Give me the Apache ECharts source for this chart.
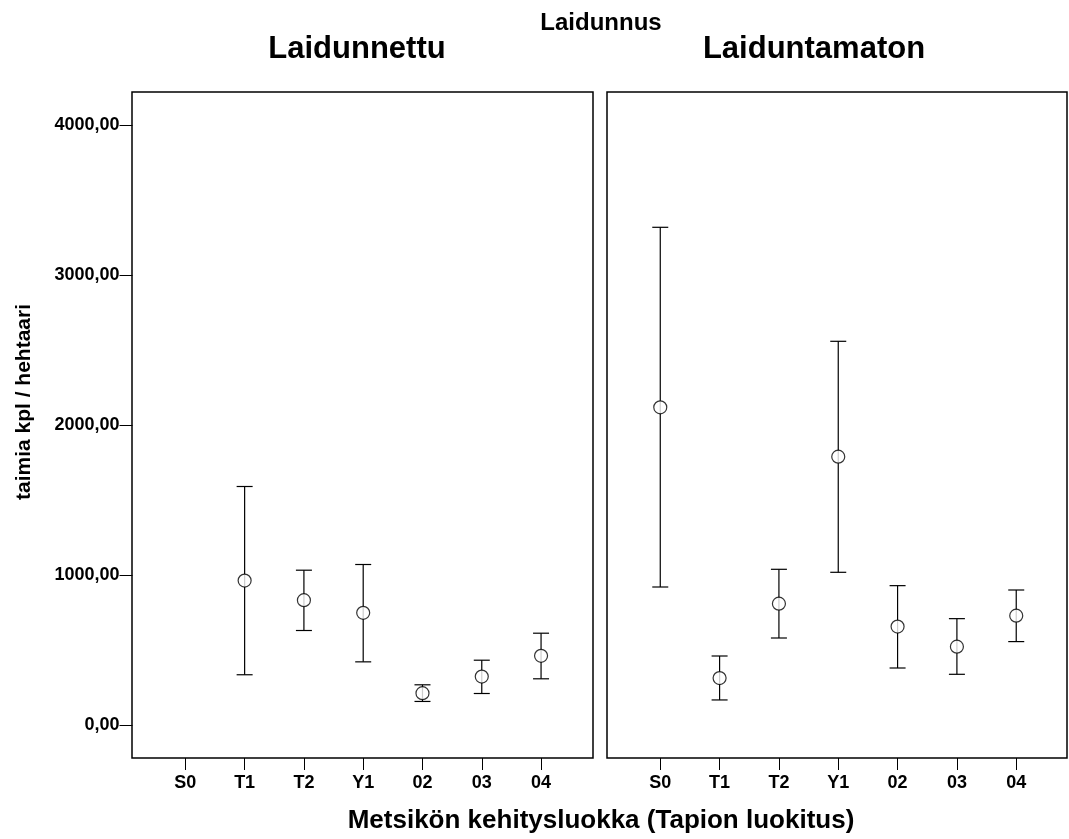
<!DOCTYPE html>
<html>
<head>
<meta charset="utf-8">
<script src="https://cdn.jsdelivr.net/npm/echarts@6/dist/echarts.min.js"></script>
<style>
html,body{margin:0;padding:0;background:#fff;}
#chart{width:1069px;height:839px;}
</style>
</head>
<body>
<div id="chart"></div>
<script>
const categories = ['S0', 'T1', 'T2', 'Y1', '02', '03', '04'];
const yTickLabels = ['0,00', '1000,00', '2000,00', '3000,00', '4000,00'];
const panelTitles = ['Laidunnettu', 'Laiduntamaton'];
const groupTitle = 'Laidunnus';
const xTitle = 'Metsikön kehitysluokka (Tapion luokitus)';
const yTitle = 'taimia kpl / hehtaari';

const laidunnettuMean  = [null, 963, 832, 748, 212, 323, 461];
const laidunnettuLower = [null, 335, 630, 421, 157, 210, 308];
const laidunnettuUpper = [null, 1590, 1032, 1070, 268, 432, 612];

const laiduntamatonMean  = [2118, 313, 809, 1789, 656, 522, 729];
const laiduntamatonLower = [920, 167, 580, 1018, 380, 338, 556];
const laiduntamatonUpper = [3318, 460, 1038, 2558, 929, 709, 900];

const FONT = '"Liberation Sans", Arial, sans-serif';

function barData(lower, upper) {
  const out = [];
  for (let i = 0; i < categories.length; i++) {
    if (lower[i] == null || upper[i] == null) continue;
    out.push([i, lower[i], upper[i]]);
  }
  return out;
}
function meanData(mean) {
  const out = [];
  for (let i = 0; i < categories.length; i++) {
    if (mean[i] == null) continue;
    out.push([i, mean[i]]);
  }
  return out;
}

function renderErrorBar(params, api) {
  const x = api.value(0);
  const lo = api.coord([x, api.value(1)]);
  const hi = api.coord([x, api.value(2)]);
  const hw = 8;
  const style = { stroke: '#000', lineWidth: 1.2, fill: null };
  return {
    type: 'group',
    children: [
      { type: 'line', shape: { x1: lo[0], y1: lo[1], x2: hi[0], y2: hi[1] }, style },
      { type: 'line', shape: { x1: hi[0] - hw, y1: hi[1], x2: hi[0] + hw, y2: hi[1] }, style },
      { type: 'line', shape: { x1: lo[0] - hw, y1: lo[1], x2: lo[0] + hw, y2: lo[1] }, style }
    ]
  };
}

const borderTop = 92, borderBottom = 758;
const zeroY = 725, topY = 125;

const chart = echarts.init(document.getElementById('chart'), null, { renderer: 'canvas' });

const dataYAxisBase = {
  type: 'value', min: 0, max: 4000, interval: 1000,
  splitLine: { show: false },
  axisLine: { show: false, onZero: false }
};
const dataXAxisBase = {
  type: 'category', data: categories, boundaryGap: true,
  position: 'bottom', offset: borderBottom - zeroY,
  axisLine: { show: false, onZero: false },
  axisTick: { show: true, alignWithLabel: true, length: 12, lineStyle: { color: '#000', width: 1 } },
  axisLabel: { color: '#000', fontFamily: FONT, fontWeight: 'bold', fontSize: 18, margin: 16 },
  splitLine: { show: false }
};

const option = {
  backgroundColor: '#fff',
  animation: false,
  grid: [
    { left: 132, top: borderTop, width: 461, height: borderBottom - borderTop, show: true, borderColor: '#000', borderWidth: 1.5, backgroundColor: 'transparent' },
    { left: 607, top: borderTop, width: 460, height: borderBottom - borderTop, show: true, borderColor: '#000', borderWidth: 1.5, backgroundColor: 'transparent' },
    { left: 155.7, top: topY, width: 415, height: zeroY - topY },
    { left: 630.6, top: topY, width: 415.3, height: zeroY - topY }
  ],
  xAxis: [
    { gridIndex: 0, type: 'value', show: false },
    { gridIndex: 1, type: 'value', show: false },
    Object.assign({}, dataXAxisBase, { gridIndex: 2 }),
    Object.assign({}, dataXAxisBase, { gridIndex: 3 })
  ],
  yAxis: [
    { gridIndex: 0, type: 'value', show: false },
    { gridIndex: 1, type: 'value', show: false },
    Object.assign({}, dataYAxisBase, {
      gridIndex: 2, position: 'left', offset: 155.7 - 132.5,
      axisTick: { show: true, length: 13, lineStyle: { color: '#000', width: 1 } },
      axisLabel: {
        color: '#000', fontFamily: FONT, fontWeight: 'bold', fontSize: 18, margin: 13,
        formatter: function (v) { return yTickLabels[Math.round(v / 1000)]; }
      }
    }),
    Object.assign({}, dataYAxisBase, { gridIndex: 3, show: false })
  ],
  series: [
    { type: 'custom', xAxisIndex: 2, yAxisIndex: 2, renderItem: renderErrorBar, data: barData(laidunnettuLower, laidunnettuUpper), encode: { x: 0, y: [1, 2] }, z: 2 },
    { type: 'custom', xAxisIndex: 3, yAxisIndex: 3, renderItem: renderErrorBar, data: barData(laiduntamatonLower, laiduntamatonUpper), encode: { x: 0, y: [1, 2] }, z: 2 },
    { type: 'scatter', xAxisIndex: 2, yAxisIndex: 2, symbol: 'circle', symbolSize: 13, itemStyle: { color: '#fff', borderColor: '#000', borderWidth: 1.2 }, data: meanData(laidunnettuMean), z: 3 },
    { type: 'scatter', xAxisIndex: 3, yAxisIndex: 3, symbol: 'circle', symbolSize: 13, itemStyle: { color: '#fff', borderColor: '#000', borderWidth: 1.2 }, data: meanData(laiduntamatonMean), z: 3 }
  ],
  graphic: [
    { type: 'text', x: 601, y: 23, style: { text: groupTitle, fill: '#000', font: 'bold 24px ' + FONT, textAlign: 'center', textVerticalAlign: 'middle' } },
    { type: 'text', x: 357, y: 49, style: { text: panelTitles[0], fill: '#000', font: 'bold 31px ' + FONT, textAlign: 'center', textVerticalAlign: 'middle' } },
    { type: 'text', x: 814, y: 49, style: { text: panelTitles[1], fill: '#000', font: 'bold 31px ' + FONT, textAlign: 'center', textVerticalAlign: 'middle' } },
    { type: 'text', x: 601, y: 821, style: { text: xTitle, fill: '#000', font: 'bold 26px ' + FONT, textAlign: 'center', textVerticalAlign: 'middle' } },
    { type: 'text', x: 24, y: 402, rotation: Math.PI / 2, style: { text: yTitle, fill: '#000', font: 'bold 21px ' + FONT, textAlign: 'center', textVerticalAlign: 'middle' } }
  ]
};
chart.setOption(option);
</script>
</body>
</html>
